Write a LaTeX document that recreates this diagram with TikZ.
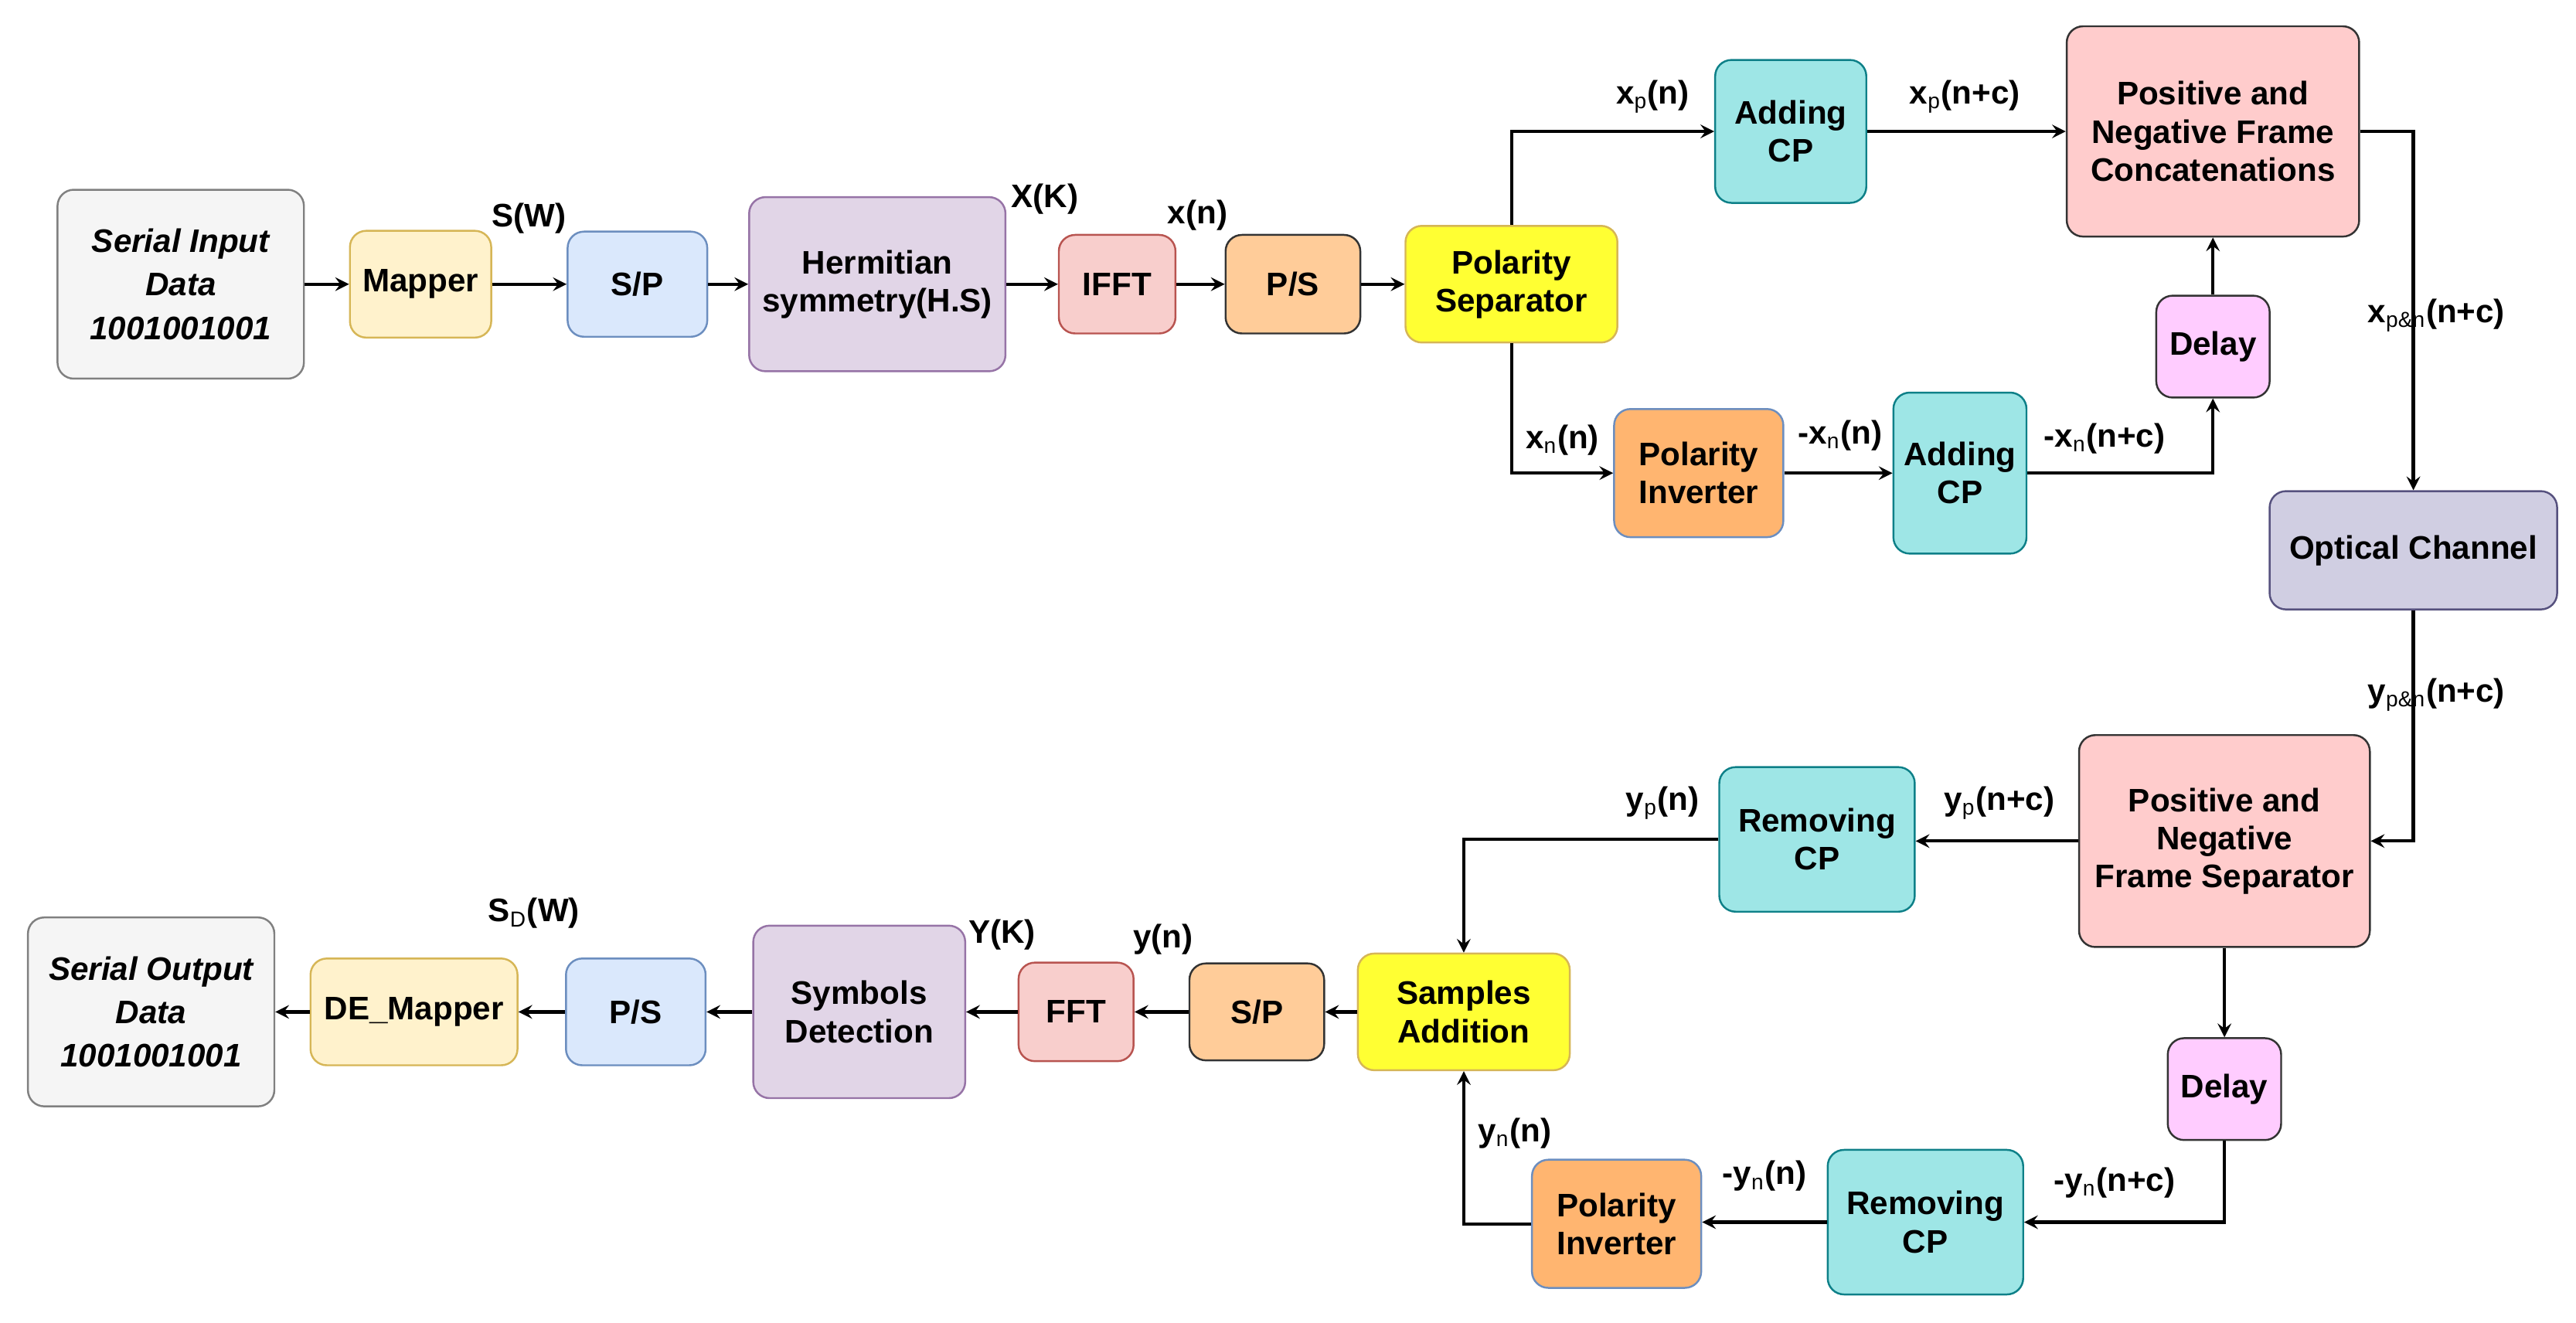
\documentclass[tikz,border=0pt]{standalone}
\usepackage{fontspec}
\setmainfont{Liberation Sans}
\usetikzlibrary{arrows}
\definecolor{grayf}{HTML}{F5F5F5}
\definecolor{yelf}{HTML}{FFF2CC}
\definecolor{yeld}{HTML}{D6B656}
\definecolor{bluf}{HTML}{DAE8FC}
\definecolor{blud}{HTML}{6C8EBF}
\definecolor{purf}{HTML}{E1D5E7}
\definecolor{purd}{HTML}{9673A6}
\definecolor{redf}{HTML}{F8CECC}
\definecolor{redd}{HTML}{B85450}
\definecolor{orgf}{HTML}{FFCC99}
\definecolor{orgg}{HTML}{FFB570}
\definecolor{brgy}{HTML}{FFFF33}
\definecolor{tealf}{HTML}{9EE6E6}
\definecolor{teald}{HTML}{0E8088}
\definecolor{pnkf}{HTML}{FFCCCC}
\definecolor{magf}{HTML}{FFCCFF}
\definecolor{optf}{HTML}{D0CEE2}
\definecolor{optd}{HTML}{56517E}
\begin{document}
\begin{tikzpicture}[x=0.021256cm, y=-0.021256cm, >=stealth, line width=1.2pt,
    every node/.style={font=\fontsize{12}{14}\selectfont\bfseries},
    blk/.style={draw, rounded corners=6pt, align=center, line width=0.7pt, inner sep=1pt},
    lbl/.style={inner sep=1pt}]
    \useasboundingbox (0,0) rectangle (1568,805);
    % Nodes: transmitter
    \node (in) [blk, fill=grayf, draw=gray, minimum width=150*0.21256mm, minimum height=115*0.21256mm, font=\fontsize{12}{16}\selectfont\bfseries\itshape] at (110,173) {Serial Input\\Data\\1001001001};
    \node (map) [blk, fill=yelf, draw=yeld, minimum width=86*0.21256mm, minimum height=65*0.21256mm] at (256,173) {Mapper};
    \node (sp1) [blk, fill=bluf, draw=blud, minimum width=85*0.21256mm, minimum height=64*0.21256mm] at (388,173) {S/P};
    \node (hs) [blk, fill=purf, draw=purd, minimum width=156*0.21256mm, minimum height=106*0.21256mm] at (534,173) {Hermitian\\symmetry(H.S)};
    \node (ifft) [blk, fill=redf, draw=redd, minimum width=71*0.21256mm, minimum height=60*0.21256mm] at (680,173) {IFFT};
    \node (ps1) [blk, fill=orgf, draw=black!80, minimum width=82*0.21256mm, minimum height=60*0.21256mm] at (787,173) {P/S};
    \node (psep) [blk, fill=brgy, draw=yeld, minimum width=129*0.21256mm, minimum height=71*0.21256mm] at (920,173) {Polarity\\Separator};
    \node (acp1) [blk, fill=tealf, draw=teald, minimum width=92*0.21256mm, minimum height=87*0.21256mm] at (1090,80) {Adding\\CP};
    \node (pnfc) [blk, fill=pnkf, draw=black!80, minimum width=178*0.21256mm, minimum height=128*0.21256mm] at (1347,80) {Positive and\\Negative Frame\\Concatenations};
    \node (dly1) [blk, fill=magf, draw=black!80, minimum width=69*0.21256mm, minimum height=62*0.21256mm] at (1347,211) {Delay};
    \node (pinv1) [blk, fill=orgg, draw=blud, minimum width=103*0.21256mm, minimum height=78*0.21256mm] at (1034,288) {Polarity\\Inverter};
    \node (acp2) [blk, fill=tealf, draw=teald, minimum width=81*0.21256mm, minimum height=98*0.21256mm] at (1193,288) {Adding\\CP};
    \node (opt) [blk, fill=optf, draw=optd, minimum width=175*0.21256mm, minimum height=72*0.21256mm] at (1469,335) {Optical Channel};
    % Nodes: receiver
    \node (pnfs) [blk, fill=pnkf, draw=black!80, minimum width=177*0.21256mm, minimum height=129*0.21256mm] at (1354,512) {Positive and\\Negative\\Frame Separator};
    \node (rcp1) [blk, fill=tealf, draw=teald, minimum width=119*0.21256mm, minimum height=88*0.21256mm] at (1106,511) {Removing\\CP};
    \node (dly2) [blk, fill=magf, draw=black!80, minimum width=69*0.21256mm, minimum height=62*0.21256mm] at (1354,663) {Delay};
    \node (rcp2) [blk, fill=tealf, draw=teald, minimum width=119*0.21256mm, minimum height=88*0.21256mm] at (1172,744) {Removing\\CP};
    \node (pinv2) [blk, fill=orgg, draw=blud, minimum width=103*0.21256mm, minimum height=78*0.21256mm] at (984,745) {Polarity\\Inverter};
    \node (sadd) [blk, fill=brgy, draw=yeld, minimum width=129*0.21256mm, minimum height=71*0.21256mm] at (891,616) {Samples\\Addition};
    \node (sp2) [blk, fill=orgf, draw=black!80, minimum width=82*0.21256mm, minimum height=59*0.21256mm] at (765,616) {S/P};
    \node (fft) [blk, fill=redf, draw=redd, minimum width=70*0.21256mm, minimum height=60*0.21256mm] at (655,616) {FFT};
    \node (sdet) [blk, fill=purf, draw=purd, minimum width=129*0.21256mm, minimum height=105*0.21256mm] at (523,616) {Symbols\\Detection};
    \node (ps2) [blk, fill=bluf, draw=blud, minimum width=85*0.21256mm, minimum height=65*0.21256mm] at (387,616) {P/S};
    \node (dmap) [blk, fill=yelf, draw=yeld, minimum width=126*0.21256mm, minimum height=65*0.21256mm] at (252,616) {DE\_Mapper};
    \node (out) [blk, fill=grayf, draw=gray, minimum width=150*0.21256mm, minimum height=115*0.21256mm, font=\fontsize{12}{16}\selectfont\bfseries\itshape] at (92,616) {Serial Output\\Data\\1001001001};

    % Transmitter arrows
    \draw[->] (in) -- (map);
    \draw[->] (map) -- (sp1);
    \draw[->] (sp1) -- (hs);
    \draw[->] (hs) -- (ifft);
    \draw[->] (ifft) -- (ps1);
    \draw[->] (ps1) -- (psep);
    \draw[->] (psep.north) |- (acp1.west);
    \draw[->] (acp1) -- (acp1 -| pnfc.west);
    \draw[->] (psep.south) |- (pinv1.west);
    \draw[->] (pinv1) -- (acp2);
    \draw[->] (acp2.east) -| (dly1.south);
    \draw[->] (dly1) -- (pnfc);
    \draw[->] (pnfc.east) -| (opt.north);
    % Receiver arrows
    \draw[->] (opt.south) |- (pnfs.east);
    \draw[->] (pnfs) -- (pnfs -| rcp1.east);
    \draw[->] (rcp1.west) -| (sadd.north);
    \draw[->] (pnfs) -- (dly2);
    \draw[->] (dly2.south) |- (rcp2.east);
    \draw[->] (rcp2) -- (rcp2 -| pinv2.east);
    \draw[->] (pinv2.west) -| (sadd.south);
    \draw[->] (sadd) -- (sp2);
    \draw[->] (sp2) -- (fft);
    \draw[->] (fft) -- (sdet);
    \draw[->] (sdet) -- (ps2);
    \draw[->] (ps2) -- (dmap);
    \draw[->] (dmap) -- (out);

    % Signal labels
    \node (lsw) [lbl] at (322,133) {S(W)};
    \node (lxk) [lbl] at (636,121) {X(K)};
    \node (lxn) [lbl] at (729,131) {x(n)};
    \node (lxp) [lbl] at (1006,59) {x$_\mathrm{p}$(n)};
    \node (lxpc) [lbl] at (1196,59) {x$_\mathrm{p}$(n+c)};
    \node (lxnn) [lbl] at (951,268) {x$_\mathrm{n}$(n)};
    \node (lmxn) [lbl] at (1120,265) {-x$_\mathrm{n}$(n)};
    \node (lmxnc) [lbl] at (1281,267) {-x$_\mathrm{n}$(n+c)};
    \node (lxpn) [lbl] at (1483,192) {x$_\mathrm{p\&n}$(n+c)};
    \node (lypn) [lbl] at (1483,423) {y$_\mathrm{p\&n}$(n+c)};
    \node (lypc) [lbl] at (1217,489) {y$_\mathrm{p}$(n+c)};
    \node (lyp) [lbl] at (1012,489) {y$_\mathrm{p}$(n)};
    \node (lmync) [lbl] at (1287,720) {-y$_\mathrm{n}$(n+c)};
    \node (lmyn) [lbl] at (1074,716) {-y$_\mathrm{n}$(n)};
    \node (lynn) [lbl] at (922,690) {y$_\mathrm{n}$(n)};
    \node (lyn) [lbl] at (708,572) {y(n)};
    \node (lyk) [lbl] at (610,569) {Y(K)};
    \node (lsd) [lbl] at (325,556) {S$_\mathrm{D}$(W)};
\end{tikzpicture}
\end{document}
